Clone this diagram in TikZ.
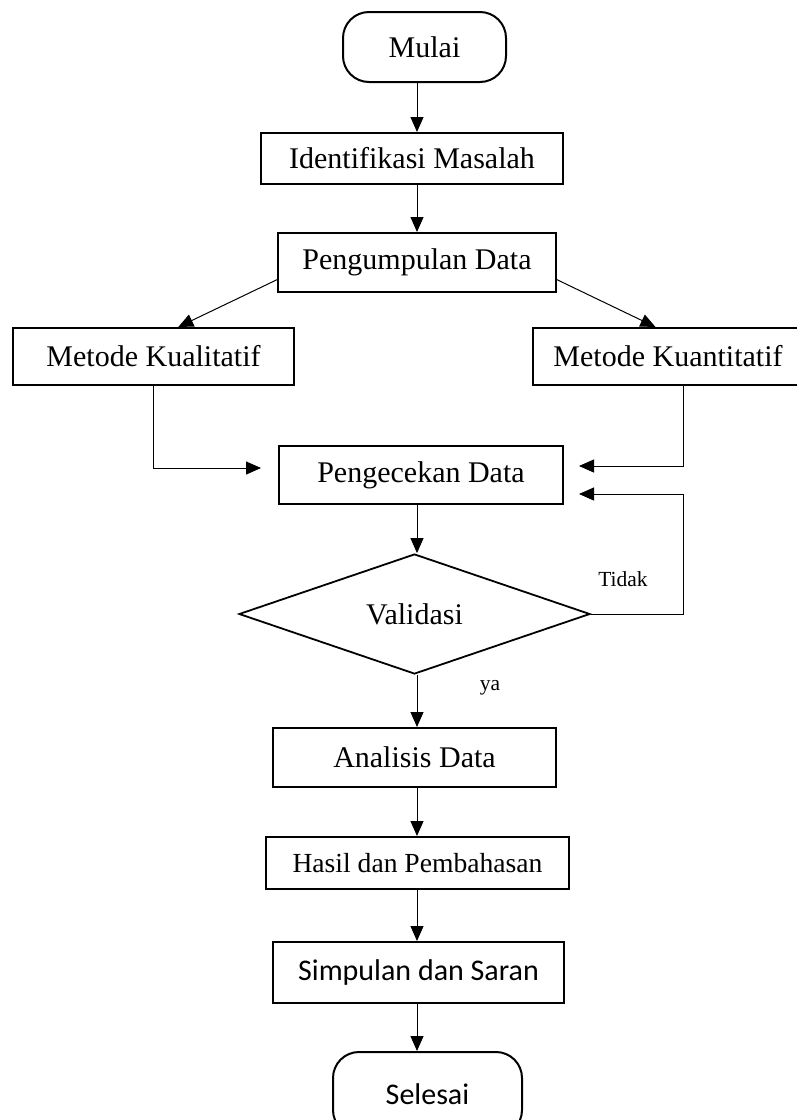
\documentclass[tikz,border=0pt]{standalone}
\usepackage{fontspec}
\setmainfont{Liberation Serif}
\newfontfamily\calibri{Carlito}
\usetikzlibrary{shapes.geometric,arrows.meta}

\begin{document}
\begin{tikzpicture}
  [x=1pt,y=-1pt,
   box/.style={draw,line width=2pt,inner sep=0pt,font=\fontsize{30}{36}\selectfont},
   term/.style={box,rounded corners=26pt},
   decide/.style={draw,diamond,line width=1.8pt,inner sep=0pt,aspect=2.9,minimum width=351pt,minimum height=120pt,font=\fontsize{30}{36}\selectfont},
   arr/.style={-{Triangle[length=15pt,width=13pt]},line width=1pt},
   lbl/.style={font=\fontsize{21.5}{26}\selectfont}]
  \useasboundingbox (0,0) rectangle (797,1120);
  \coordinate (spine) at (417,0);
  \coordinate (rail) at (683,494);

  \node [term,minimum width=163pt,minimum height=70pt] (mulai) at (424.5,47) {Mulai};
  \node [box,minimum width=302pt,minimum height=51pt] (ident) at (412,158.5) {Identifikasi Masalah\hspace{15pt}};
  \node [box,minimum width=278pt,minimum height=59pt] (kumpul) at (417,262.5) {Pengumpulan Data\hspace{9pt}};
  \node [box,minimum width=281pt,minimum height=57pt] (kual) at (153.5,356.5) {Metode Kualitatif\hspace{23pt}};
  \node [box,minimum width=270pt,minimum height=57pt] (kuan) at (668,356.5) {Metode Kuantitatif};
  \node [box,minimum width=284pt,minimum height=58pt] (cek) at (421,475) {Pengecekan Data};
  \node [decide] (valid) at (414.5,614) {Validasi\hspace{11pt}};
  \node [box,minimum width=283pt,minimum height=59pt] (analisis) at (414.5,757.5) {Analisis Data\hspace{12pt}};
  \node [box,minimum width=303pt,minimum height=52pt,font=\fontsize{27.6}{33}\selectfont] (hasil) at (417.5,863) {Hasil dan Pembahasan};
  \node [box,minimum width=291pt,minimum height=61pt,font=\calibri\fontsize{30}{36}\selectfont] (simpulan) at (418.5,972.5) {Simpulan dan Saran\hspace{11pt}};
  \node [term,minimum width=189pt,minimum height=84pt,font=\calibri\fontsize{30}{36}\selectfont] (selesai) at (427.5,1094) {Selesai};
  \node [lbl] (tidak) at (623,579) {Tidak};
  \node [lbl] (ya) at (490,688) {ya};

  \foreach \from/\to in {mulai/ident,ident/kumpul,cek/valid,valid/analisis,analisis/hasil,hasil/simpulan,simpulan/selesai}
    \draw [arr] (\from.south -| spine) -- (\to.north -| spine);

  \draw [arr] (kumpul.187) -- (kual.50);
  \draw [arr] (kumpul.-7) -- (kuan.113);
  \draw [arr] (kual.south) |- ([xshift=-17pt,yshift=7pt]cek.west);
  \draw [arr] (kuan.south -| rail) |- ([xshift=15pt,yshift=9pt]cek.east);
  \draw [arr] (valid.east) -| (rail) -- ([xshift=15pt,yshift=-19pt]cek.east);

\end{tikzpicture}
\end{document}
